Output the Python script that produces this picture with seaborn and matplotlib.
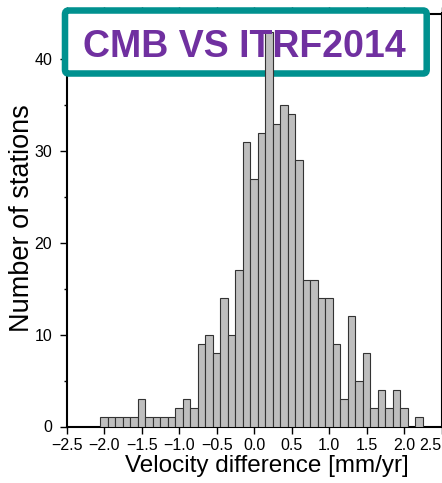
import matplotlib
matplotlib.use("Agg")
import matplotlib.pyplot as plt
from matplotlib.patches import FancyBboxPatch
import seaborn as sns
import pandas as pd

# ---- data ----
bin_centers = [-2.0, -1.9, -1.8, -1.7, -1.6, -1.5, -1.4, -1.3, -1.2, -1.1,
               -1.0, -0.9, -0.8, -0.7, -0.6, -0.5, -0.4, -0.3, -0.2, -0.1,
               0.0, 0.1, 0.2, 0.3, 0.4, 0.5, 0.6, 0.7, 0.8, 0.9,
               1.0, 1.1, 1.2, 1.3, 1.4, 1.5, 1.6, 1.7, 1.8, 1.9,
               2.0, 2.1, 2.2]
station_counts = [1, 1, 1, 1, 1, 3, 1, 1, 1, 1,
                  2, 3, 2, 9, 10, 8, 14, 10, 17, 31,
                  27, 32, 43, 33, 35, 34, 29, 16, 16, 14,
                  14, 9, 3, 12, 5, 8, 2, 4, 2, 4,
                  2, 0, 1]
x_ticks = [-2.5, -2.0, -1.5, -1.0, -0.5, 0.0, 0.5, 1.0, 1.5, 2.0, 2.5]
y_ticks = [0, 10, 20, 30, 40]
title_text = "CMB VS ITRF2014"
x_label = "Velocity difference [mm/yr]"
y_label = "Number of stations"

df = pd.DataFrame({"velocity": bin_centers, "count": station_counts})

sns.set_style("ticks", {"text.color": "black", "axes.labelcolor": "black",
                        "xtick.color": "black", "ytick.color": "black",
                        "axes.edgecolor": "black"})
plt.rcParams["font.family"] = ["Liberation Sans", "DejaVu Sans"]

fig = plt.figure(figsize=(4.42, 4.83), dpi=100)
W, H = 442.0, 483.0
ax_left, ax_right = 66.7, 441.7
ax_top, ax_bottom = 13.5, 426.5
ax = fig.add_axes([ax_left / W, 1 - ax_bottom / H,
                   (ax_right - ax_left) / W, (ax_bottom - ax_top) / H])

sns.histplot(data=df, x="velocity", weights="count", binwidth=0.1,
             binrange=(-2.05, 2.25), color="#BEBEBE", edgecolor="#333333",
             linewidth=0.8, alpha=1.0, ax=ax)
for p in ax.patches:
    p.set_zorder(2.7)

ax.set_xlim(-2.5, 2.5)
ax.set_ylim(0, 45)
ax.set_xticks(x_ticks)
ax.set_yticks(y_ticks)
ax.set_yticks([5, 15, 25, 35], minor=True)
ax.tick_params(axis="x", which="major", direction="out", length=5, width=1.0,
               labelsize=11.5, pad=3.5, top=True, colors="black")
ax.tick_params(axis="y", which="major", direction="out", length=5, width=1.0,
               labelsize=11.5, pad=5.5, colors="black")
ax.tick_params(axis="y", which="minor", direction="out", length=2.5, width=1.0,
               colors="black")
labels = ax.get_xticklabels()
labels[-1].set_horizontalalignment("right")

for s in ax.spines.values():
    s.set_visible(True)
    s.set_color("black")
    s.set_linewidth(1.5)

ax.set_xlabel(x_label, fontsize=17.5, color="black")
ax.set_ylabel(y_label, fontsize=19.5, color="black")
ax.xaxis.label.set_va("center")
ax.yaxis.label.set_va("center")
ax.xaxis.set_label_coords((266.5 - ax_left) / (ax_right - ax_left),
                          (ax_bottom - 466) / (ax_bottom - ax_top))
ax.yaxis.set_label_coords((22 - ax_left) / (ax_right - ax_left),
                          (ax_bottom - 218.5) / (ax_bottom - ax_top))

# title box
bx0, bx1 = 65.0 / W, 426.7 / W
by0, by1 = 1 - 73.5 / H, 1 - 10.5 / H
box = FancyBboxPatch((bx0, by0), bx1 - bx0, by1 - by0,
                     boxstyle="round,pad=0,rounding_size=0.008",
                     transform=fig.transFigure, facecolor="white",
                     edgecolor="#00918F", linewidth=4.7, clip_on=False,
                     zorder=2.6)
ax.add_patch(box)
ax.text(244 / W, 1 - 57 / H, title_text, transform=fig.transFigure,
        ha="center", va="baseline", fontsize=27, fontweight="bold",
        color="#7030A0", zorder=5, clip_on=False)

fig.savefig("out.png", dpi=100)
